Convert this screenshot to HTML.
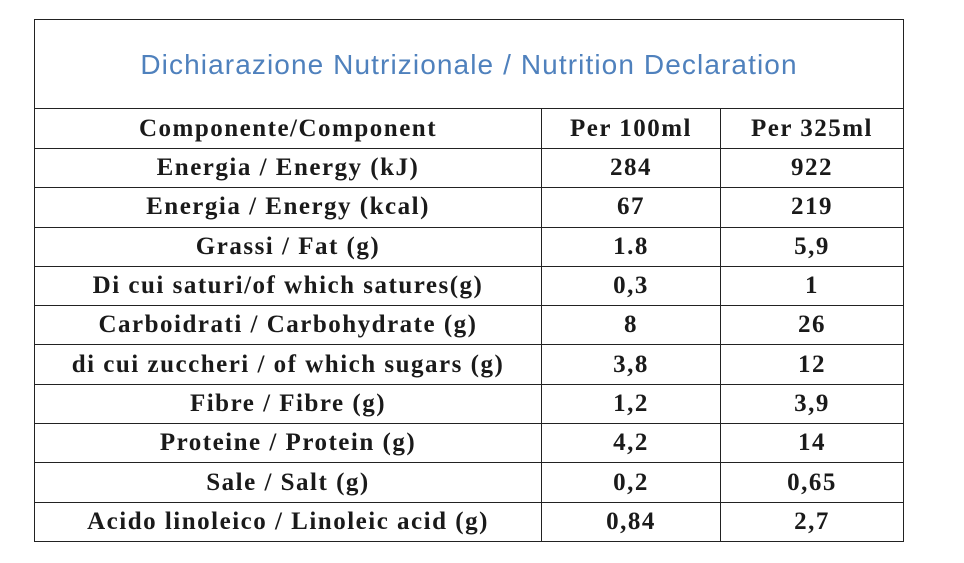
<!DOCTYPE html>
<html><head><meta charset="utf-8"><style>
body{margin:0;width:964px;height:563px;background:#fff;position:relative;overflow:hidden}
table{position:absolute;left:34px;top:19px;border-collapse:collapse;width:870px;font-family:"Liberation Serif",serif;font-weight:bold;font-size:25px;color:#1a1a1a;letter-spacing:1.5px}
td{border:1px solid #222;text-align:center;padding:0;height:38.3px;line-height:38px}
td.title{height:86px;padding-top:2px;font-family:"Liberation Sans",sans-serif;font-weight:normal;font-size:28px;color:#4F81BD;letter-spacing:1.1px}
tr.hdr td{height:39px}
</style></head><body>
<table>
<tr><td class="title" colspan="3">Dichiarazione Nutrizionale / Nutrition Declaration</td></tr>
<tr class="hdr"><td style="width:506px">Componente/Component</td><td style="width:178px">Per 100ml</td><td>Per 325ml</td></tr>
<tr><td>Energia / Energy (kJ)</td><td>284</td><td>922</td></tr>
<tr><td>Energia / Energy (kcal)</td><td>67</td><td>219</td></tr>
<tr><td>Grassi / Fat (g)</td><td>1.8</td><td>5,9</td></tr>
<tr><td>Di cui saturi/of which satures(g)</td><td>0,3</td><td>1</td></tr>
<tr><td>Carboidrati / Carbohydrate (g)</td><td>8</td><td>26</td></tr>
<tr><td>di cui zuccheri / of which sugars (g)</td><td>3,8</td><td>12</td></tr>
<tr><td>Fibre / Fibre (g)</td><td>1,2</td><td>3,9</td></tr>
<tr><td>Proteine / Protein (g)</td><td>4,2</td><td>14</td></tr>
<tr><td>Sale / Salt (g)</td><td>0,2</td><td>0,65</td></tr>
<tr><td>Acido linoleico / Linoleic acid (g)</td><td>0,84</td><td>2,7</td></tr>
</table>
</body></html>
